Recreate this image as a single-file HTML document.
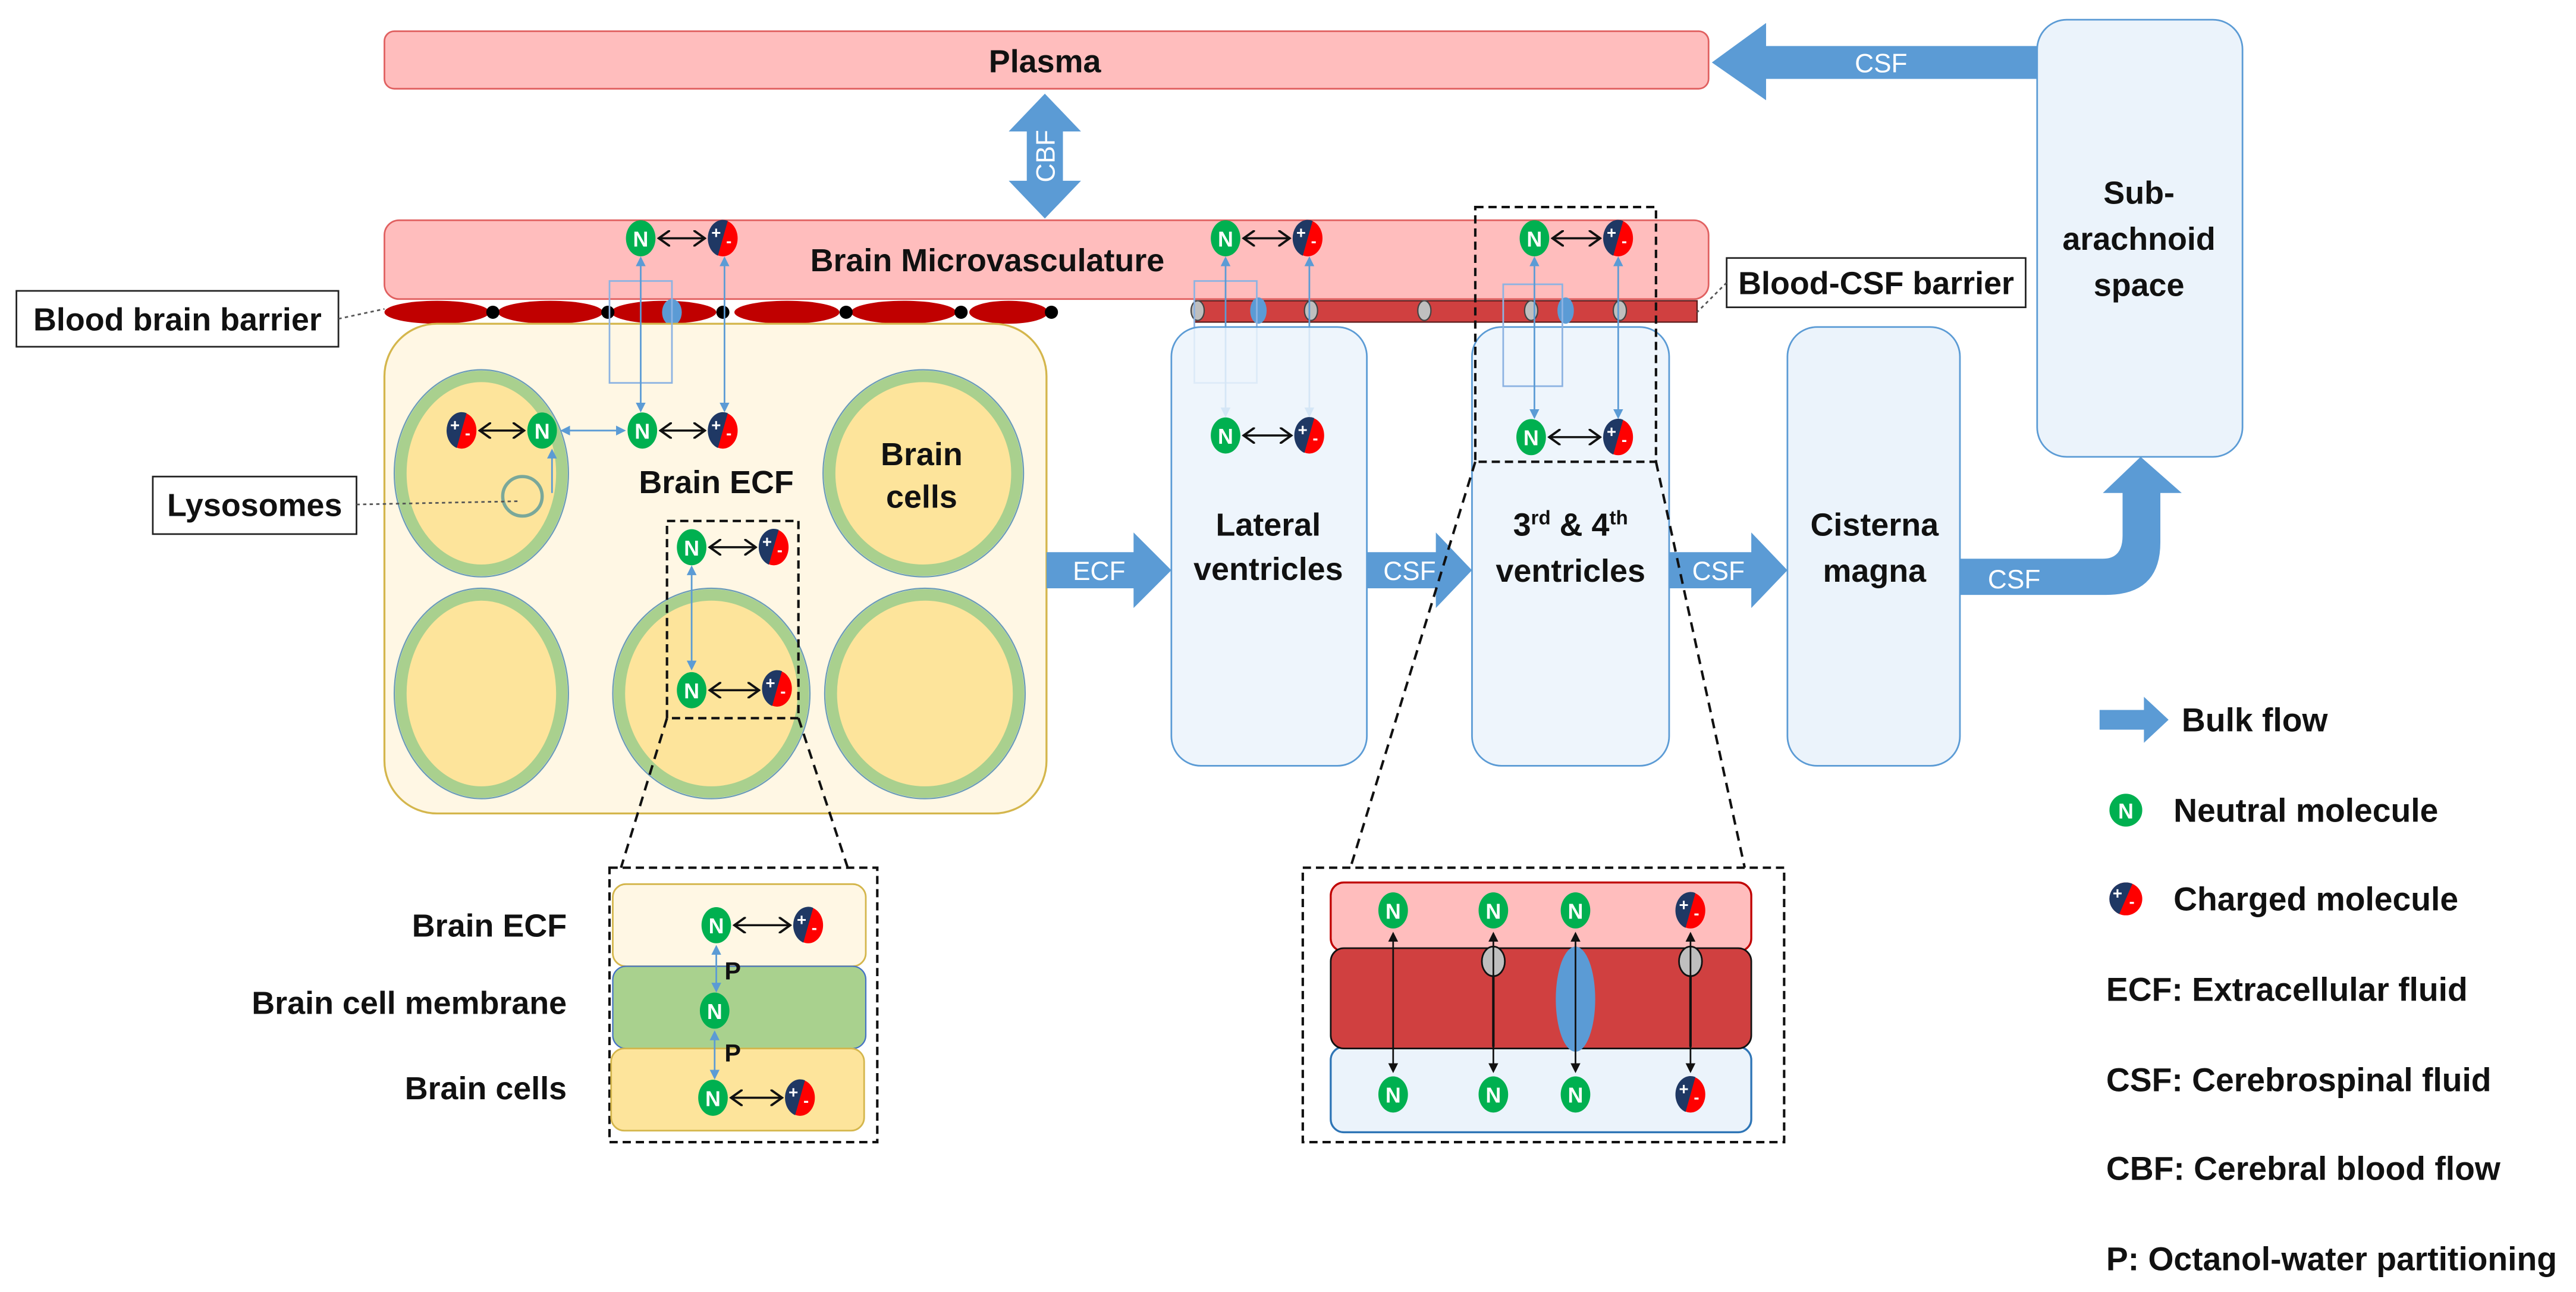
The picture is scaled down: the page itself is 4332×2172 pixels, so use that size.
<!DOCTYPE html>
<html><head><meta charset="utf-8">
<style>
html,body{margin:0;padding:0;background:#fff}
svg{display:block}
text{font-family:"Liberation Sans",sans-serif;font-weight:bold;fill:#111}
.n{fill:#fff;font-size:13px;text-anchor:middle;font-weight:bold}
.pm{fill:#fff;font-size:10px;font-weight:bold}
.lab{font-size:19.5px;text-anchor:middle}
.wt{fill:#fff;font-size:16px;text-anchor:middle;font-weight:normal}
.leg{font-size:20px}
</style></head><body>
<svg width="4332" height="2172" viewBox="0 0 1568 786.2" preserveAspectRatio="none" xmlns="http://www.w3.org/2000/svg">
<defs>
<marker id="ab" markerWidth="8" markerHeight="10" refX="7" refY="5" orient="auto-start-reverse" markerUnits="userSpaceOnUse"><path d="M0,0 L7,5 L0,10" fill="none" stroke="#111" stroke-width="1.4"/></marker>
<marker id="ak" markerWidth="6" markerHeight="6" refX="5" refY="3" orient="auto-start-reverse" markerUnits="userSpaceOnUse"><path d="M0,0 L6,3 L0,6 Z" fill="#111"/></marker>
<marker id="abl" markerWidth="6" markerHeight="6" refX="5" refY="3" orient="auto-start-reverse" markerUnits="userSpaceOnUse"><path d="M0,0 L6,3 L0,6 Z" fill="#5b9bd5"/></marker>
</defs>

<!-- Plasma -->
<rect x="234" y="19" width="806" height="35" rx="6" fill="#ffbdbd" stroke="#e06060" stroke-width="1"/>
<text x="636" y="44" class="lab">Plasma</text>
<path d="M1242,28 L1075,28 L1075,14 L1042,38 L1075,61 L1075,48 L1242,48 Z" fill="#5b9bd5"/>
<text x="1145" y="44" class="wt">CSF</text>
<rect x="1240" y="12" width="125" height="266" rx="18" fill="#ebf3fb" stroke="#5b9bd5" stroke-width="1"/>
<text x="1302" y="124" class="lab">Sub-</text>
<text x="1302" y="152" class="lab">arachnoid</text>
<text x="1302" y="180" class="lab">space</text>
<path d="M636,57 L658,80 L647,80 L647,110 L658,110 L636,133 L614,110 L625,110 L625,80 L614,80 Z" fill="#5b9bd5"/>
<text x="0" y="0" class="wt" transform="translate(642,95) rotate(-90)">CBF</text>

<rect x="234" y="134" width="806" height="48" rx="9" fill="#ffbdbd" stroke="#e06060" stroke-width="1"/>
<text x="601" y="165" class="lab">Brain Microvasculature</text>

<g fill="#c00000">
<ellipse cx="266" cy="190" rx="32" ry="7"/><ellipse cx="335" cy="190" rx="32" ry="7"/><ellipse cx="404" cy="190" rx="32" ry="7"/><ellipse cx="479" cy="190" rx="32" ry="7"/><ellipse cx="550" cy="190" rx="32" ry="7"/><ellipse cx="614" cy="190" rx="24" ry="7"/>
</g>
<g fill="#000"><circle cx="300" cy="190" r="4"/><circle cx="370" cy="190" r="4"/><circle cx="440" cy="190" r="4"/><circle cx="515" cy="190" r="4"/><circle cx="585" cy="190" r="4"/><circle cx="640" cy="190" r="4"/></g>
<ellipse cx="409" cy="190" rx="6" ry="8" fill="#5b9bd5"/>

<rect x="727" y="183" width="306" height="13" fill="#d04040" stroke="#5a1a1a" stroke-width="0.8"/>
<g fill="#bfbfbf" stroke="#444" stroke-width="0.8">
<ellipse cx="729" cy="189" rx="4" ry="6"/><ellipse cx="798" cy="189" rx="4" ry="6"/><ellipse cx="867" cy="189" rx="4" ry="6"/><ellipse cx="932" cy="189" rx="4" ry="6"/><ellipse cx="986" cy="189" rx="4" ry="6"/>
</g>
<ellipse cx="766" cy="189" rx="5" ry="8" fill="#5b9bd5"/><ellipse cx="953" cy="189" rx="5" ry="8" fill="#5b9bd5"/>

<rect x="10" y="177" width="196" height="34" fill="#fff" stroke="#222" stroke-width="1"/>
<text x="108" y="201" class="lab">Blood brain barrier</text>
<line x1="206" y1="194" x2="234" y2="188" stroke="#555" stroke-dasharray="2,2"/>
<rect x="1051" y="157" width="182" height="30" fill="#fff" stroke="#222" stroke-width="1"/>
<text x="1142" y="179" class="lab">Blood-CSF barrier</text>
<line x1="1051" y1="172" x2="1033" y2="190" stroke="#555" stroke-dasharray="2,2"/>

<rect x="234" y="197" width="403" height="298" rx="32" fill="#fff7e4" stroke="#d4b64c" stroke-width="1.2"/>
<g fill="#fde49b" stroke="#a9d08e" stroke-width="7">
<ellipse cx="293" cy="288" rx="49" ry="59"/>
<ellipse cx="562" cy="288" rx="57" ry="59"/>
<ellipse cx="293" cy="422" rx="49" ry="60"/>
<ellipse cx="433" cy="422" rx="56" ry="60"/>
<ellipse cx="563" cy="422" rx="57" ry="60"/>
</g>
<g fill="none" stroke="#6a9bb8" stroke-width="0.8">
<ellipse cx="293" cy="288" rx="53" ry="63"/><ellipse cx="562" cy="288" rx="61" ry="63"/><ellipse cx="293" cy="422" rx="53" ry="64"/><ellipse cx="433" cy="422" rx="60" ry="64"/><ellipse cx="563" cy="422" rx="61" ry="64"/>
</g>
<text x="561" y="283" class="lab">Brain</text>
<text x="561" y="309" class="lab">cells</text>
<text x="436" y="300" class="lab">Brain ECF</text>
<circle cx="318" cy="302" r="12" fill="#fde49b" stroke="#7aa89a" stroke-width="2"/>
<rect x="93" y="290" width="124" height="35" fill="#fff" stroke="#222" stroke-width="1"/>
<text x="155" y="314" class="lab">Lysosomes</text>
<line x1="217" y1="307" x2="316" y2="305" stroke="#555" stroke-dasharray="2,2"/>
<line x1="336" y1="300" x2="336" y2="274" stroke="#5b9bd5" stroke-width="1" marker-end="url(#abl)"/>

<rect x="371" y="171" width="38" height="62" fill="none" stroke="#8db3e2" stroke-width="1"/>
<line x1="390" y1="157" x2="390" y2="250" stroke="#5b9bd5" stroke-width="1" marker-end="url(#abl)" marker-start="url(#abl)"/>
<line x1="441" y1="157" x2="441" y2="250" stroke="#5b9bd5" stroke-width="1" marker-end="url(#abl)" marker-start="url(#abl)"/>
<line x1="380" y1="262" x2="342" y2="262" stroke="#5b9bd5" stroke-width="1" marker-end="url(#abl)" marker-start="url(#abl)"/>
<rect x="406" y="317" width="80" height="120" fill="none" stroke="#111" stroke-width="1.5" stroke-dasharray="5,3"/>
<line x1="421" y1="345" x2="421" y2="407" stroke="#5b9bd5" stroke-width="1" marker-end="url(#abl)" marker-start="url(#abl)"/>

<rect x="727" y="171" width="38" height="62" fill="none" stroke="#8db3e2" stroke-width="1"/>
<line x1="746" y1="157" x2="746" y2="253" stroke="#5b9bd5" stroke-width="1" marker-end="url(#abl)" marker-start="url(#abl)"/>
<line x1="797" y1="157" x2="797" y2="253" stroke="#5b9bd5" stroke-width="1" marker-end="url(#abl)" marker-start="url(#abl)"/>

<rect x="713" y="199" width="119" height="267" rx="18" fill="#ebf3fb" stroke="#5b9bd5" stroke-width="1" fill-opacity="0.85"/>
<text x="772" y="326" class="lab">Lateral</text>
<text x="772" y="353" class="lab">ventricles</text>
<rect x="896" y="199" width="120" height="267" rx="18" fill="#ebf3fb" stroke="#5b9bd5" stroke-width="1" fill-opacity="0.85"/>
<text x="956" y="326" class="lab">3<tspan font-size="12" dy="-7">rd</tspan><tspan dy="7"> &amp; 4</tspan><tspan font-size="12" dy="-7">th</tspan></text>
<text x="956" y="354" class="lab">ventricles</text>
<rect x="915" y="173" width="36" height="62" fill="none" stroke="#8db3e2" stroke-width="1"/>
<line x1="934" y1="157" x2="934" y2="254" stroke="#5b9bd5" stroke-width="1" marker-end="url(#abl)" marker-start="url(#abl)"/>
<line x1="985" y1="157" x2="985" y2="254" stroke="#5b9bd5" stroke-width="1" marker-end="url(#abl)" marker-start="url(#abl)"/>
<rect x="898" y="126" width="110" height="155" fill="none" stroke="#111" stroke-width="1.5" stroke-dasharray="5,3"/>
<rect x="1088" y="199" width="105" height="267" rx="18" fill="#ebf3fb" stroke="#5b9bd5" stroke-width="1"/>
<text x="1141" y="326" class="lab">Cisterna</text>
<text x="1141" y="354" class="lab">magna</text>

<path d="M637,336 L690,336 L690,324 L713,347 L690,370 L690,358 L637,358 Z" fill="#5b9bd5"/>
<text x="669" y="353" class="wt">ECF</text>
<path d="M832,336 L874,336 L874,324 L896,347 L874,370 L874,358 L832,358 Z" fill="#5b9bd5"/>
<text x="858" y="353" class="wt">CSF</text>
<path d="M1016,336 L1066,336 L1066,324 L1088,347 L1066,370 L1066,358 L1016,358 Z" fill="#5b9bd5"/>
<text x="1046" y="353" class="wt">CSF</text>
<path d="M1193,340 L1280,340 Q1292,340 1292,326 L1292,300 L1280,300 L1303,278 L1328,300 L1315,300 L1315,330 Q1315,362 1282,362 L1193,362 Z" fill="#5b9bd5"/>
<text x="1226" y="358" class="wt">CSF</text>

<g stroke="#111" stroke-width="1.5" stroke-dasharray="6,4" fill="none">
<line x1="406" y1="437" x2="378" y2="528"/><line x1="486" y1="437" x2="516" y2="528"/>
<line x1="898" y1="281" x2="822" y2="528"/><line x1="1008" y1="281" x2="1062" y2="528"/>
</g>

<rect x="371" y="528" width="163" height="167" fill="none" stroke="#111" stroke-width="1.5" stroke-dasharray="5,3"/>
<rect x="373" y="538" width="154" height="50" rx="8" fill="#fff7e4" stroke="#d4b64c"/>
<rect x="373" y="588" width="154" height="50" rx="8" fill="#a9d18e" stroke="#4472c4" stroke-width="0.8"/>
<rect x="372" y="638" width="154" height="50" rx="8" fill="#fde49b" stroke="#d4b64c"/>
<text x="345" y="570" class="lab" style="text-anchor:end">Brain ECF</text>
<text x="345" y="617" class="lab" style="text-anchor:end">Brain cell membrane</text>
<text x="345" y="669" class="lab" style="text-anchor:end">Brain cells</text>
<line x1="436" y1="576" x2="436" y2="603" stroke="#5b9bd5" stroke-width="1" marker-end="url(#abl)" marker-start="url(#abl)"/>
<line x1="435" y1="628" x2="435" y2="656" stroke="#5b9bd5" stroke-width="1" marker-end="url(#abl)" marker-start="url(#abl)"/>
<text x="446" y="596" class="lab" style="font-size:15px">P</text>
<text x="446" y="646" class="lab" style="font-size:15px">P</text>

<rect x="793" y="528" width="293" height="167" fill="none" stroke="#111" stroke-width="1.5" stroke-dasharray="5,3"/>
<rect x="810" y="537" width="256" height="42" rx="8" fill="#ffbdbd" stroke="#c00000" stroke-width="1.2"/>
<rect x="810" y="637" width="256" height="52" rx="8" fill="#ebf3fb" stroke="#2e75b6" stroke-width="1.2"/>
<rect x="810" y="577" width="256" height="61" rx="8" fill="#d04040" stroke="#111" stroke-width="1"/>
<line x1="909" y1="578" x2="909" y2="637" stroke="#111" stroke-width="1.5"/>
<line x1="1029" y1="578" x2="1029" y2="637" stroke="#111" stroke-width="1.5"/>
<ellipse cx="909" cy="585" rx="7" ry="9" fill="#bfbfbf" stroke="#111"/>
<ellipse cx="1029" cy="585" rx="7" ry="9" fill="#bfbfbf" stroke="#111"/>
<ellipse cx="959" cy="608" rx="12" ry="32" fill="#5b9bd5"/>
<g stroke="#111" stroke-width="1" marker-end="url(#ak)" marker-start="url(#ak)">
<line x1="848" y1="568" x2="848" y2="652"/><line x1="909" y1="568" x2="909" y2="652"/><line x1="959" y1="568" x2="959" y2="652"/><line x1="1029" y1="568" x2="1029" y2="652"/>
</g>

<g stroke="#111" stroke-width="1.3" marker-end="url(#ab)" marker-start="url(#ab)">
<line x1="401" y1="145" x2="429" y2="145"/>
<line x1="757" y1="145" x2="785" y2="145"/>
<line x1="945" y1="145" x2="974" y2="145"/>
<line x1="402" y1="262" x2="429" y2="262"/>
<line x1="292" y1="262" x2="319" y2="262"/>
<line x1="757" y1="265" x2="786" y2="265"/>
<line x1="943" y1="266" x2="974" y2="266"/>
<line x1="432" y1="333" x2="460" y2="333"/>
<line x1="432" y1="420" x2="462" y2="420"/>
<line x1="447" y1="563" x2="481" y2="563"/>
<line x1="445" y1="668" x2="476" y2="668"/>
</g>

<g>
<ellipse cx="390" cy="145" rx="9" ry="11" fill="#00b050"/><text x="390" y="150" class="n">N</text>
<ellipse cx="746" cy="145" rx="9" ry="11" fill="#00b050"/><text x="746" y="150" class="n">N</text>
<ellipse cx="934" cy="145" rx="9" ry="11" fill="#00b050"/><text x="934" y="150" class="n">N</text>
<ellipse cx="391" cy="262" rx="9" ry="11" fill="#00b050"/><text x="391" y="267" class="n">N</text>
<ellipse cx="330" cy="262" rx="9" ry="11" fill="#00b050"/><text x="330" y="267" class="n">N</text>
<ellipse cx="746" cy="265" rx="9" ry="11" fill="#00b050"/><text x="746" y="270" class="n">N</text>
<ellipse cx="932" cy="266" rx="9" ry="11" fill="#00b050"/><text x="932" y="271" class="n">N</text>
<ellipse cx="421" cy="333" rx="9" ry="11" fill="#00b050"/><text x="421" y="338" class="n">N</text>
<ellipse cx="421" cy="420" rx="9" ry="11" fill="#00b050"/><text x="421" y="425" class="n">N</text>
<ellipse cx="436" cy="563" rx="9" ry="11" fill="#00b050"/><text x="436" y="568" class="n">N</text>
<ellipse cx="435" cy="615" rx="9" ry="11" fill="#00b050"/><text x="435" y="620" class="n">N</text>
<ellipse cx="434" cy="668" rx="9" ry="11" fill="#00b050"/><text x="434" y="673" class="n">N</text>
<ellipse cx="848" cy="554" rx="9" ry="11" fill="#00b050"/><text x="848" y="559" class="n">N</text>
<ellipse cx="909" cy="554" rx="9" ry="11" fill="#00b050"/><text x="909" y="559" class="n">N</text>
<ellipse cx="959" cy="554" rx="9" ry="11" fill="#00b050"/><text x="959" y="559" class="n">N</text>
<ellipse cx="848" cy="666" rx="9" ry="11" fill="#00b050"/><text x="848" y="671" class="n">N</text>
<ellipse cx="909" cy="666" rx="9" ry="11" fill="#00b050"/><text x="909" y="671" class="n">N</text>
<ellipse cx="959" cy="666" rx="9" ry="11" fill="#00b050"/><text x="959" y="671" class="n">N</text>
<ellipse cx="1294" cy="493" rx="10" ry="10" fill="#00b050"/><text x="1294" y="498" class="n">N</text>
</g>

<g transform="translate(440,145)"><ellipse rx="9" ry="11" fill="#ff0000"/><path d="M3,-10.6 A9,11 0 0 0 -3,10.6 Z" fill="#1f3864"/><text x="-7" y="0" class="pm">+</text><text x="2" y="5" class="pm">-</text></g>
<g transform="translate(796,145)"><ellipse rx="9" ry="11" fill="#ff0000"/><path d="M3,-10.6 A9,11 0 0 0 -3,10.6 Z" fill="#1f3864"/><text x="-7" y="0" class="pm">+</text><text x="2" y="5" class="pm">-</text></g>
<g transform="translate(985,145)"><ellipse rx="9" ry="11" fill="#ff0000"/><path d="M3,-10.6 A9,11 0 0 0 -3,10.6 Z" fill="#1f3864"/><text x="-7" y="0" class="pm">+</text><text x="2" y="5" class="pm">-</text></g>
<g transform="translate(440,262)"><ellipse rx="9" ry="11" fill="#ff0000"/><path d="M3,-10.6 A9,11 0 0 0 -3,10.6 Z" fill="#1f3864"/><text x="-7" y="0" class="pm">+</text><text x="2" y="5" class="pm">-</text></g>
<g transform="translate(281,262)"><ellipse rx="9" ry="11" fill="#ff0000"/><path d="M3,-10.6 A9,11 0 0 0 -3,10.6 Z" fill="#1f3864"/><text x="-7" y="0" class="pm">+</text><text x="2" y="5" class="pm">-</text></g>
<g transform="translate(797,265)"><ellipse rx="9" ry="11" fill="#ff0000"/><path d="M3,-10.6 A9,11 0 0 0 -3,10.6 Z" fill="#1f3864"/><text x="-7" y="0" class="pm">+</text><text x="2" y="5" class="pm">-</text></g>
<g transform="translate(985,266)"><ellipse rx="9" ry="11" fill="#ff0000"/><path d="M3,-10.6 A9,11 0 0 0 -3,10.6 Z" fill="#1f3864"/><text x="-7" y="0" class="pm">+</text><text x="2" y="5" class="pm">-</text></g>
<g transform="translate(471,333)"><ellipse rx="9" ry="11" fill="#ff0000"/><path d="M3,-10.6 A9,11 0 0 0 -3,10.6 Z" fill="#1f3864"/><text x="-7" y="0" class="pm">+</text><text x="2" y="5" class="pm">-</text></g>
<g transform="translate(473,419)"><ellipse rx="9" ry="11" fill="#ff0000"/><path d="M3,-10.6 A9,11 0 0 0 -3,10.6 Z" fill="#1f3864"/><text x="-7" y="0" class="pm">+</text><text x="2" y="5" class="pm">-</text></g>
<g transform="translate(492,563)"><ellipse rx="9" ry="11" fill="#ff0000"/><path d="M3,-10.6 A9,11 0 0 0 -3,10.6 Z" fill="#1f3864"/><text x="-7" y="0" class="pm">+</text><text x="2" y="5" class="pm">-</text></g>
<g transform="translate(487,668)"><ellipse rx="9" ry="11" fill="#ff0000"/><path d="M3,-10.6 A9,11 0 0 0 -3,10.6 Z" fill="#1f3864"/><text x="-7" y="0" class="pm">+</text><text x="2" y="5" class="pm">-</text></g>
<g transform="translate(1029,554)"><ellipse rx="9" ry="11" fill="#ff0000"/><path d="M3,-10.6 A9,11 0 0 0 -3,10.6 Z" fill="#1f3864"/><text x="-7" y="0" class="pm">+</text><text x="2" y="5" class="pm">-</text></g>
<g transform="translate(1029,666)"><ellipse rx="9" ry="11" fill="#ff0000"/><path d="M3,-10.6 A9,11 0 0 0 -3,10.6 Z" fill="#1f3864"/><text x="-7" y="0" class="pm">+</text><text x="2" y="5" class="pm">-</text></g>
<g transform="translate(1294,547)"><ellipse rx="10" ry="10" fill="#ff0000"/><path d="M4,-9.2 A10,10 0 0 0 -4,9.2 Z" fill="#1f3864"/><text x="-8" y="0" class="pm">+</text><text x="2" y="5" class="pm">-</text></g>

<path d="M1278,432 L1305,432 L1305,424 L1320,438 L1305,452 L1305,444 L1278,444 Z" fill="#5b9bd5"/>
<text x="1328" y="445" class="leg">Bulk flow</text>
<text x="1323" y="500" class="leg">Neutral molecule</text>
<text x="1323" y="554" class="leg">Charged molecule</text>
<text x="1282" y="609" class="leg">ECF: Extracellular fluid</text>
<text x="1282" y="664" class="leg">CSF: Cerebrospinal fluid</text>
<text x="1282" y="718" class="leg">CBF: Cerebral blood flow</text>
<text x="1282" y="773" class="leg">P: Octanol-water partitioning</text>
</svg>
</body></html>
